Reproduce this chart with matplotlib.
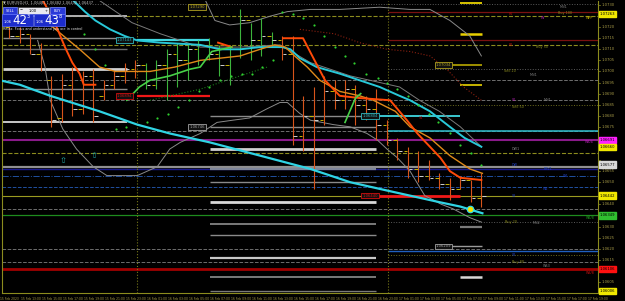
import matplotlib
matplotlib.use("Agg")
import matplotlib.pyplot as plt
from matplotlib.transforms import blended_transform_factory as btf
from matplotlib.patches import Rectangle

W, H = 625, 301
fig = plt.figure(figsize=(6.25, 3.01), dpi=100, facecolor='black')
ax = fig.add_axes([2 / W, 1 - 293 / H, 596 / W, 292 / H])
ax.set_facecolor('black')
XMIN, XMAX = -0.7, 56.12
YMIN, YMAX = 1.0600, 1.07318
ax.set_xlim(XMIN, XMAX)
ax.set_ylim(YMIN, YMAX)
ax.set_xticks([]); ax.set_yticks([])
for s in ['left', 'right', 'bottom']:
    ax.spines[s].set_color('#8c8c1e'); ax.spines[s].set_linewidth(0.8)
ax.spines['top'].set_visible(False)

# ---------------- data ----------------
bar_open = [1.0720, 1.0716, 1.0717, 1.0708, 1.0696, 1.0679, 1.0694, 1.0683, 1.0698, 1.0689,
            1.0694, 1.0698, 1.0701, 1.0703, 1.0694, 1.0703, 1.0708, 1.0705, 1.0710, 1.0712,
            1.0708, 1.0703, 1.0710, 1.0723, 1.0714, 1.0716, 1.0714, 1.0708, 1.0671, 1.0680,
            1.0678, 1.0691, 1.0687, 1.0692, 1.0685, 1.0683, 1.0676, 1.0669, 1.0664, 1.0656,
            1.0653, 1.0652, 1.0649, 1.0647, 1.0651, 1.0643]
bar_high = [1.0721, 1.0720, 1.0717, 1.0713, 1.0698, 1.0699, 1.0702, 1.0700, 1.0701, 1.0696,
            1.0700, 1.0704, 1.0705, 1.0704, 1.0705, 1.0710, 1.0713, 1.0712, 1.0714, 1.0715,
            1.0712, 1.0712, 1.0728, 1.0722, 1.0724, 1.0718, 1.0716, 1.0716, 1.0689, 1.0693,
            1.0698, 1.0696, 1.0696, 1.0694, 1.0689, 1.0692, 1.0678, 1.0670, 1.0666, 1.0664,
            1.0660, 1.0654, 1.0652, 1.0653, 1.0651, 1.0654]
bar_low = [1.0715, 1.0713, 1.0708, 1.0700, 1.0675, 1.0677, 1.0680, 1.0681, 1.0677, 1.0687,
           1.0692, 1.0695, 1.0697, 1.0692, 1.0692, 1.0687, 1.0693, 1.0696, 1.0703, 1.0705,
           1.0698, 1.0694, 1.0706, 1.0705, 1.0707, 1.0711, 1.0705, 1.0667, 1.0664, 1.0647,
           1.0676, 1.0683, 1.0683, 1.0676, 1.0678, 1.0669, 1.0667, 1.0660, 1.0652, 1.0650,
           1.0651, 1.0647, 1.0642, 1.0647, 1.0641, 1.0639]
bar_close = [1.0716, 1.0717, 1.0708, 1.0701, 1.0678, 1.0694, 1.0683, 1.0698, 1.0680, 1.0694,
             1.0698, 1.0701, 1.0703, 1.0694, 1.0703, 1.0708, 1.0705, 1.0710, 1.0712, 1.0708,
             1.0703, 1.0710, 1.0723, 1.0714, 1.0716, 1.0714, 1.0708, 1.0671, 1.0680, 1.0678,
             1.0691, 1.0687, 1.0692, 1.0685, 1.0683, 1.0676, 1.0669, 1.0664, 1.0656, 1.0653,
             1.0652, 1.0649, 1.0647, 1.0651, 1.0643, 1.0644]
bar_trend = ['dn'] * 13 + ['up'] * 13 + ['dn'] * 20

fast_ma_x = [6.1, 7.2, 8.2, 9.6, 11.0, 12.2, 14.4, 18.2, 20.1, 22.0, 23.9, 26.0, 26.8, 27.7,
             29.3, 31.5, 33.4, 35.3, 37.2, 38.2, 40.1, 42.0, 43.4, 45.0]
fast_ma_y = [1.0732, 1.0727, 1.0723, 1.0719, 1.0716, 1.0714, 1.0713, 1.0712, 1.0710, 1.0710,
             1.0711, 1.0711, 1.0710, 1.0706, 1.0702, 1.0699, 1.0696, 1.0693, 1.0689, 1.0687,
             1.0682, 1.0675, 1.0670, 1.0666]
slow_ma_x = [-0.9, 1.0, 3.9, 8.6, 12.2, 15.3, 19.1, 23.9, 28.7, 32.5, 35.3, 39.1, 41.0, 43.0, 45.1]
slow_ma_y = [1.0696, 1.0694, 1.0689, 1.0682, 1.0676, 1.0672, 1.0668, 1.0662, 1.0656, 1.0650,
             1.0647, 1.0643, 1.0641, 1.0639, 1.0636]
orange_ma_x = [3.9, 6.7, 8.6, 10.1, 12.0, 13.4, 15.8, 18.2, 20.1, 22.0, 23.9, 25.3, 26.3, 27.2,
               28.4, 29.6, 31.5, 33.4, 34.7, 36.8, 38.2, 40.1, 42.0, 43.9, 45.1]
orange_ma_y = [1.0721, 1.0710, 1.0702, 1.0700, 1.0700, 1.0700, 1.0702, 1.0705, 1.0706, 1.0707,
               1.0710, 1.0712, 1.0711, 1.0707, 1.0702, 1.0696, 1.0691, 1.0689, 1.0687, 1.0682,
               1.0675, 1.0670, 1.0662, 1.0656, 1.0654]
red_seg1_x = [3.2, 3.9, 4.6, 5.3, 6.0, 6.7, 7.1, 8.2]
red_seg1_y = [1.0732, 1.0726, 1.0719, 1.0711, 1.0704, 1.0699, 1.0694, 1.0694]
red_seg2_x = [19.9, 21.2]
red_seg2_y = [1.0713, 1.0711]
red_seg3_x = [26.1, 28.0, 29.1, 30.1, 30.9, 31.5, 33.4, 36.3, 37.9, 38.9, 40.1, 41.1, 42.0, 43.0, 45.0]
red_seg3_y = [1.0715, 1.0715, 1.0705, 1.0696, 1.0692, 1.0689, 1.0688, 1.0687, 1.0678, 1.0672,
              1.0666, 1.0661, 1.0655, 1.0652, 1.0651]
lime_x = [11.2, 12.4, 13.4, 15.3, 17.2, 18.2, 19.3, 21.2]
lime_y = [1.0687, 1.0693, 1.0696, 1.0698, 1.0701, 1.0702, 1.0709, 1.0711]
lime2_x = [32.0, 33.0, 33.5]
lime2_y = [1.0677, 1.0688, 1.0690]
upper_band_x = [18.7, 19.1, 19.6, 21.0, 22.9, 24.9, 26.5, 28.7, 31.5, 35.3, 38.2, 40.1, 42.0, 43.9, 45.0]
upper_band_y = [1.0732, 1.0728, 1.0723, 1.0721, 1.0722, 1.0725, 1.0727, 1.0728, 1.0728, 1.0729,
                1.0728, 1.0728, 1.0723, 1.0716, 1.0707]
mid_band_x = [8.6, 11.7, 14.4, 18.2, 22.0, 25.8, 28.7, 32.5, 37.2, 39.1, 41.0, 43.0, 45.0]
mid_band_y = [1.0732, 1.0722, 1.0717, 1.0711, 1.0711, 1.0712, 1.0704, 1.0698, 1.0693, 1.0687,
              1.0682, 1.0675, 1.0666]
low_band_x = [2.7, 3.4, 3.9, 5.1, 6.4, 8.0, 9.3, 12.2, 14.1, 15.3, 16.3, 18.2, 19.8, 21.3, 22.9,
              24.5, 25.8, 26.5, 27.7, 28.7, 30.9, 32.5, 34.1, 35.1, 36.0, 37.0, 38.2, 39.6, 41.2,
              42.3, 43.9, 45.0]
low_band_y = [1.0714, 1.0702, 1.0687, 1.0674, 1.0665, 1.0657, 1.0653, 1.0653, 1.0657, 1.0665,
              1.0668, 1.0672, 1.0677, 1.0678, 1.0679, 1.0683, 1.0686, 1.0686, 1.0681, 1.0678,
              1.0676, 1.0675, 1.0672, 1.0669, 1.0665, 1.0661, 1.0655, 1.0644, 1.0640, 1.0638,
              1.0634, 1.0632]
red_dot_x = [27.7, 31.0, 33.4, 36.0, 38.2, 40.1, 41.7, 43.3, 45.0]
red_dot_y = [1.0719, 1.0717, 1.0713, 1.0710, 1.0709, 1.0707, 1.0701, 1.0693, 1.0687]
green_dot_x = [13.4, 18.2, 20.1, 22.0, 24.6]
green_dot_y = [1.0687, 1.0692, 1.0695, 1.0698, 1.0702]
sar_x = [7.1, 8.2, 9.1, 10.2, 11.1, 13.1, 14.1, 15.1, 16.1, 17.1, 18.1, 19.0, 20.1, 21.1, 22.2,
         23.1, 24.1, 25.1, 26.0, 27.0, 28.0, 29.0, 30.0, 31.0, 32.0, 32.9, 34.0, 35.1, 36.0,
         37.0, 38.0, 39.0, 40.0, 40.9, 42.0, 43.0, 44.0, 45.0]
sar_y = [1.0717, 1.0710, 1.0703, 1.0674, 1.0675, 1.0677, 1.0679, 1.0681, 1.0684, 1.0687,
         1.0691, 1.0693, 1.0696, 1.0698, 1.0699, 1.0699, 1.0702, 1.0705, 1.0727, 1.0726,
         1.0724, 1.0721, 1.0716, 1.0711, 1.0707, 1.0704, 1.0699, 1.0697, 1.0695, 1.0692,
         1.0689, 1.0685, 1.0681, 1.0677, 1.0672, 1.0667, 1.0663, 1.0658]

# full-width / right-side horizontal levels
level_price = [1.07305, 1.0727, 1.0725, 1.0714, 1.0712, 1.0701, 1.0696, 1.0687, 1.0685, 1.0673,
               1.0669, 1.0663, 1.0657, 1.0656, 1.0653, 1.0648, 1.0644, 1.0638, 1.0635, 1.0632,
               1.0620, 1.0619, 1.0617, 1.0614, 1.0611]
level_start = [-0.7, 36.1, -0.7, 36.1, -0.7, 36.1, -0.7, -0.7, 36.1, -0.7,
               -0.7, -0.7, -0.7, -0.7, -0.7, -0.7, -0.7, -0.7, -0.7, 36.1,
               -0.7, 36.1, 36.1, -0.7, -0.7]
level_color = ['#5a5a5a', '#7a1010', '#8c8c1e', '#7a1010', '#8c8c1e', '#5a5a5a', '#6e6e6e',
               '#6e6e6e', '#6e6e1e', '#6e6e6e', '#8a1a8a', '#8c8c1e', '#909090', '#1a1a90',
               '#2050a0', '#2050a0', '#9a9a20', '#6e6e6e', '#1e8c1e', '#5a5a5a', '#6e6e6e',
               '#2060c0', '#6e6e1e', '#6e6e6e', '#a00000']
level_style = [':', '-', '--', '-', '--', ':', '--', '--', ':', '--', '-', '--', '-', '-',
               '-.', '--', '-', '--', '-', ':', '--', '-', ':', '--', '-']
level_width = [0.7, 0.9, 0.8, 0.9, 0.8, 0.7, 0.7, 0.7, 0.7, 0.7, 1.5, 0.8, 1.6, 1.0,
               0.7, 0.7, 0.8, 0.7, 0.9, 0.7, 0.7, 1.0, 0.7, 0.7, 2.0]

# short gray/white zone lines
left_zone = [1.0725, 1.0715, 1.0710, 1.0701, 1.0692, 1.0677]
left_zone_col = ['#b0b0b0', '#8a8a8a', '#6a6a6a', '#d0d0d0', '#8a8a8a', '#c8c8c8']
left_zone_w = [1.4, 1.0, 1.0, 2.0, 1.0, 1.4]
mid_zone = [1.0680, 1.0675, 1.0665, 1.0656, 1.0650, 1.0641, 1.0631, 1.0626, 1.0616, 1.0607, 1.0601]
mid_zone_col = ['#8a8a8a', '#8a8a8a', '#d0d0d0', '#7c8498', '#8a8a8a', '#d8d8d8', '#7a7a7a',
                '#8a8a8a', '#c8c8c8', '#7a7a7a', '#7a7a7a']
mid_zone_w = [1.0, 1.0, 2.0, 1.6, 1.0, 2.0, 1.4, 1.0, 1.6, 1.4, 1.0]
right_zone = [1.0731, 1.0717, 1.0703, 1.0694, 1.0630, 1.0621, 1.0607]
right_zone_start = [43.0, 43.0, 41.3, 43.0, 43.0, 41.3, 43.0]
right_zone_col = ['#d8c400', '#e8d000', '#b8a800', '#c8b400', '#7a7a7a', '#9a9a9a', '#d8d8d8']
right_zone_w = [1.4, 1.8, 1.2, 1.4, 1.6, 1.0, 1.8]

box_price = [1.0714, 1.0689, 1.0680, 1.0644, 1.0703, 1.0621, 1.0729, 1.0675]
box_u = [11.0, 11.0, 34.4, 34.4, 41.4, 41.4, 17.9, 17.9]
box_text = ['1.07143', '1.06894', '1.06804', '1.06440', '1.07034', '1.06209', '1.07290', '1.06746']
box_color = ['#30b8c0', '#d01010', '#30b8c0', '#d01010', '#b0a020', '#a0a0a0', '#b0a020', '#a0a0a0']

seg_price = [1.0714, 1.0689, 1.0680, 1.0644, 1.0673]
seg_start = [12.2, 12.2, 35.0, 35.0, 36.1]
seg_end = [19.1, 19.1, 43.0, 43.0, 56.2]
seg_color = ['#40d8e0', '#f01818', '#40d8e0', '#f01818', '#30c0d0']
seg_width = [1.6, 1.6, 1.3, 2.0, 1.1]

price_ticks = [1.0730 - 0.0005 * k for k in range(27)]
price_tick_labels = ['%.4f' % v for v in price_ticks]
hl_price = [1.0726, 1.0669, 1.0666, 1.0658, 1.0644, 1.0635, 1.0611, 1.0601]
hl_text = ['1.07263', '1.06691', '1.06660', '1.06577', '1.06442', '1.06349', '1.06106', '1.06006']
hl_color = ['#f0e800', '#ff20ff', '#f0e800', '#d8d8d8', '#f0e800', '#30c030', '#ff1010', '#f0e800']

time_pos = [-1, 1, 3, 5, 7, 9, 11, 13, 15, 17, 19, 21, 23, 25, 27, 29, 31, 33, 35, 37, 39, 41,
            43, 45, 47, 49, 51, 53, 55]
time_labels = ['15 Feb 2023', '15 Feb 13:00', '15 Feb 15:00', '15 Feb 17:00', '15 Feb 19:00',
               '15 Feb 21:00', '15 Feb 23:00', '16 Feb 01:00', '16 Feb 03:00', '16 Feb 05:00',
               '16 Feb 07:00', '16 Feb 09:00', '16 Feb 11:00', '16 Feb 13:00', '16 Feb 15:00',
               '16 Feb 17:00', '16 Feb 19:00', '16 Feb 21:00', '16 Feb 23:00', '17 Feb 01:00',
               '17 Feb 03:00', '17 Feb 05:00', '17 Feb 07:00', '17 Feb 09:00', '17 Feb 11:00',
               '17 Feb 13:00', '17 Feb 15:00', '17 Feb 17:00', '17 Feb 19:00']
day_sep = [12.2, 36.1]

pivot_u = [52.5, 47.6, 50.7, 52.3, 55.0, 47.6, 50.2, 47.2, 49.6, 47.9, 50.9, 47.9, 39.0, 54.9,
           47.9, 47.9, 50.9, 52.8, 50.9, 47.9, 55.0, 47.3, 49.9, 47.9, 47.9, 50.9, 55.0]
pivot_p = [1.0729, 1.0726, 1.0724, 1.07265, 1.0724, 1.0712, 1.0711, 1.0700, 1.06985, 1.0687,
           1.0687, 1.0684, 1.0679, 1.0668, 1.0665, 1.0658, 1.0656, 1.0653, 1.0647, 1.0644,
           1.0634, 1.0632, 1.06315, 1.0617, 1.0614, 1.0612, 1.0609]
pivot_text = ['MN1', 'R2', 'W', 'Buy 100', 'WPP', 'R1', 'Buy 50', 'Sell 20', 'MN1', 'S1',
              'MN1', 'Sell 50', 'S4', 'W3/4', 'DW1', 'DW', 'PRV1', 'W1', 'W2', 'S3',
              'W5/8', 'Buy 20', 'MN2', 'S2', 'Buy 80', 'WS3', 'W3/8']
pivot_color = ['#808080', '#b01010', '#c020c0', '#8c8c1e', '#c8b400', '#b01010', '#8c8c1e',
               '#8c8c1e', '#808080', '#b020b0', '#808080', '#8c8c1e', '#b01010', '#c020c0',
               '#808080', '#2040c0', '#2040c0', '#2040c0', '#2040c0', '#2040c0', '#20a020',
               '#8c8c1e', '#808080', '#2040c0', '#8c8c1e', '#808080', '#d01010']

arrow_u = [5.1, 8.1]
arrow_p = [1.0660, 1.0662]

FS = 2.7
# ---------------- drawing ----------------
for p, s0, c, ls, lw in zip(level_price, level_start, level_color, level_style, level_width):
    ax.hlines(p, s0, XMAX, colors=c, linestyles=ls, linewidth=lw, zorder=1)
for x in day_sep:
    ax.axvline(x, color='#7a7a1a', linestyle=':', linewidth=0.8, zorder=1)

for p, c, w in zip(left_zone, left_zone_col, left_zone_w):
    ax.hlines(p, -0.6, 11.2, colors=c, linewidth=w, zorder=2)
for p, c, w in zip(mid_zone, mid_zone_col, mid_zone_w):
    ax.hlines(p, 19.1, 35.0, colors=c, linewidth=w, zorder=2)
for p, s0, c, w in zip(right_zone, right_zone_start, right_zone_col, right_zone_w):
    ax.hlines(p, s0, 45.1, colors=c, linewidth=w, zorder=2)
for p, a, b, c, w in zip(seg_price, seg_start, seg_end, seg_color, seg_width):
    ax.hlines(p, a, b, colors=c, linewidth=w, zorder=3)

ax.plot(upper_band_x, upper_band_y, color='#8a8a8a', lw=0.7, zorder=3)
ax.plot(mid_band_x, mid_band_y, color='#7a7a7a', lw=0.7, zorder=3)
ax.plot(low_band_x, low_band_y, color='#8a8a8a', lw=0.7, zorder=3)
ax.plot(red_dot_x, red_dot_y, color='#8a2010', lw=0.8, ls=':', zorder=3)
ax.plot(green_dot_x, green_dot_y, color='#1a7a1a', lw=0.8, ls=':', zorder=3)

for i in range(len(bar_open)):
    c = '#d8541a' if bar_trend[i] == 'dn' else '#3cb43c'
    ax.vlines(i, bar_low[i], bar_high[i], colors=c, linewidth=0.8, zorder=4)
    ax.hlines(bar_open[i], i - 0.42, i - 0.08, colors='#c8b400', linewidth=0.7, zorder=4)
    ax.hlines(bar_close[i], i + 0.08, i + 0.42, colors='#d0d0d0', linewidth=0.7, zorder=4)

ax.plot(slow_ma_x, slow_ma_y, color='#30d4e4', lw=1.6, zorder=5)
ax.plot(fast_ma_x, fast_ma_y, color='#28c8d8', lw=1.4, zorder=5)
ax.plot(orange_ma_x, orange_ma_y, color='#e08a1a', lw=1.0, zorder=5)
for xs, ys in [(red_seg1_x, red_seg1_y), (red_seg2_x, red_seg2_y), (red_seg3_x, red_seg3_y)]:
    ax.plot(xs, ys, color='#ff4a08', lw=1.4, zorder=6)
ax.plot(lime_x, lime_y, color='#48d048', lw=1.2, zorder=6)
ax.plot(lime2_x, lime2_y, color='#48d048', lw=1.2, zorder=6)
ax.scatter(sar_x, sar_y, s=2.5, color='#30d030', zorder=7, linewidths=0)

for u, p in zip(arrow_u, arrow_p):
    ax.text(u, p, '⇧', color='#20a8a8', fontsize=6, ha='center', va='center', zorder=7)
ax.scatter([43.9], [1.0638], s=22, color='#f0e000', edgecolors='#30e0f0', linewidths=0.8, zorder=8)

for u, p, t, c in zip(box_u, box_price, box_text, box_color):
    ax.text(u, p, t, color=c, fontsize=FS, ha='center', va='center', zorder=9,
            bbox=dict(boxstyle='square,pad=0.25', fc='#101010', ec=c, lw=0.6))
for u, p, t, c in zip(pivot_u, pivot_p, pivot_text, pivot_color):
    ax.text(u, p, t, color=c, fontsize=2.4, ha='left', va='center', zorder=9)

# price scale
tr_y = btf(ax.transAxes, ax.transData)
for p, t in zip(price_ticks, price_tick_labels):
    ax.plot([1.0, 1.004], [p, p], transform=tr_y, color='#8c8c1e', lw=0.5, clip_on=False)
    if min(abs(p - h) for h in hl_price) < 0.00022:
        continue
    ax.text(1.006, p, t, transform=tr_y, color='#a89c48', fontsize=FS, ha='left', va='center', clip_on=False)
for p, t, c in zip(hl_price, hl_text, hl_color):
    ax.text(1.003, p, t, transform=tr_y, color='black', fontsize=FS, ha='left', va='center', clip_on=False,
            zorder=10, bbox=dict(boxstyle='square,pad=0.3', fc=c, ec=c))

# time scale
tr_x = btf(ax.transData, ax.transAxes)
for u, t in zip(time_pos, time_labels):
    ax.text(u + 0.15, -0.012, t, transform=tr_x, color='#a89c48', fontsize=2.2, ha='left', va='top', clip_on=False)

# trade panel (figure pixel coords)
def fx(x): return x / W
def fy(y): return 1 - y / H

fig.text(fx(3), fy(3), '▼ EURUSD,H1  1.06481 1.06482 1.06432 1.06437', color='#c0c0c0', fontsize=2.6, va='center')
for x0, x1, txt in [(3, 17, 'SELL'), (50, 65, 'BUY')]:
    fig.patches.append(Rectangle((fx(x0), fy(14)), (x1 - x0) / W, 7 / H, transform=fig.transFigure,
                                 fc='#2a3ad8', ec='#8090ff', lw=0.5))
    fig.text(fx((x0 + x1) / 2), fy(10.5), txt, color='white', fontsize=2.6, ha='center', va='center')
fig.patches.append(Rectangle((fx(18), fy(14)), 31 / W, 7 / H, transform=fig.transFigure,
                             fc='#e8e8f0', ec='#404040', lw=0.5))
fig.text(fx(33), fy(10.5), '1.00', color='black', fontsize=2.6, ha='center', va='center')
fig.text(fx(21), fy(10.5), '−', color='black', fontsize=2.6, ha='center', va='center')
fig.text(fx(46), fy(10.5), '+', color='black', fontsize=2.6, ha='center', va='center')
for x0, big, sup in [(2, '42', '3'), (34, '43', '8')]:
    fig.patches.append(Rectangle((fx(x0), fy(26)), 31 / W, 12 / H, transform=fig.transFigure,
                                 fc='#1c2ccc', ec='#6070ff', lw=0.5))
    fig.text(fx(x0 + 2), fy(22), '1.06', color='white', fontsize=2.6, va='center')
    fig.text(fx(x0 + 10), fy(20.5), big, color='white', fontsize=8.5, va='center')
    fig.text(fx(x0 + 25), fy(17), sup, color='white', fontsize=3.5, va='center')
fig.text(fx(3), fy(29), 'Relax. Focus and understand you are in control', color='#e0e0e0', fontsize=2.4, va='center')

fig.savefig('out.png', dpi=100, facecolor='black')
